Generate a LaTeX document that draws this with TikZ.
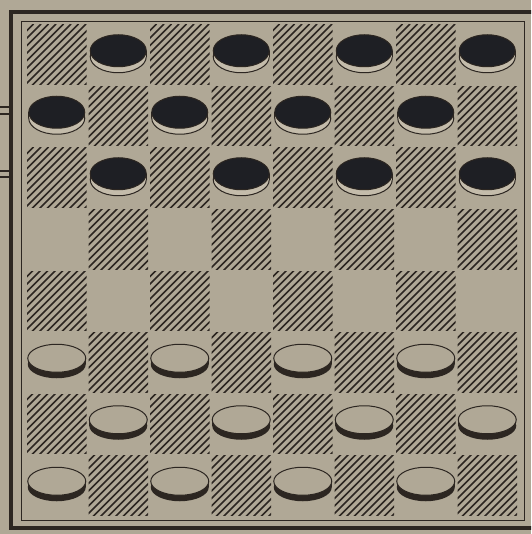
\documentclass[tikz,border=0pt]{standalone}

\definecolor{boardbg}{RGB}{176,168,150}
\definecolor{ink}{RGB}{44,38,33}
\definecolor{manblack}{RGB}{30,31,36}
\definecolor{rimlight}{RGB}{196,188,171}

\begin{document}
\begin{tikzpicture}[x=1pt,y=-1pt,
	hatch/.style={color=ink, line width=1.6pt},
	rim/.style={color=ink, line width=1pt}]
	\useasboundingbox (0,0) rectangle (531,534);
	\fill[boardbg] (0,0) rectangle (531,534);
	\clip (0,0) rectangle (531,534);
	% frame: thick outside, thin inside
	\draw[color=ink, line width=4pt] (11,12) rectangle (540,528);
	\draw[color=ink, line width=0.9pt] (21,21) rectangle (524,520);
	% bits of something at the left edge
	\draw[color=ink, line width=1.5pt] (0,107) -- (9,107);
	\draw[color=ink, line width=1.5pt] (0,114) -- (9,114);
	\draw[color=ink, line width=1.5pt] (0,171) -- (9,171);
	\draw[color=ink, line width=1.5pt] (0,177) -- (9,177);
	% hatched squares
	\foreach \r in {0,...,7}{
		\foreach \c in {0,...,7}{
			\pgfmathtruncatemacro{\odd}{mod(\r+\c,2)}
			\ifnum\odd=0
				\begin{scope}
					\clip (27+\c*61.5,25+\r*61.5) rectangle ++(59.5,59.5);
					\foreach \k in {-62,-54.5,...,64}
						\draw[hatch] (26+\c*61.5+\k,24+\r*61.5+62) -- ++(62,-62);
				\end{scope}
			\fi
		}
	}
	% black men
	\foreach \r/\c in {0/1,0/3,0/5,0/7,1/0,1/2,1/4,1/6,2/1,2/3,2/5,2/7}{
		\pgfmathsetmacro{\cx}{56.75+61.5*\c}
		\pgfmathsetmacro{\cy}{54.75+61.5*\r}
		\draw[rim, fill=rimlight] (\cx,\cy+2) ellipse (28pt and 16pt);
		\fill[rimlight] (\cx-28,\cy-4) rectangle (\cx+28,\cy+2);
		\draw[rim] (\cx-28,\cy-4) -- (\cx-28,\cy+2);
		\draw[rim] (\cx+28,\cy-4) -- (\cx+28,\cy+2);
		\draw[rim, fill=manblack] (\cx,\cy-4) ellipse (28pt and 16pt);
	}
	% white men
	\foreach \r/\c in {5/0,5/2,5/4,5/6,6/1,6/3,6/5,6/7,7/0,7/2,7/4,7/6}{
		\pgfmathsetmacro{\cx}{56.75+61.5*\c}
		\pgfmathsetmacro{\cy}{54.75+61.5*\r}
		\fill[ink] (\cx,\cy+2) ellipse (29pt and 14pt);
		\fill[ink] (\cx-29,\cy-4) rectangle (\cx+29,\cy+2);
		\draw[rim, fill=boardbg] (\cx,\cy-4) ellipse (29pt and 14pt);
	}
\end{tikzpicture}
\end{document}
